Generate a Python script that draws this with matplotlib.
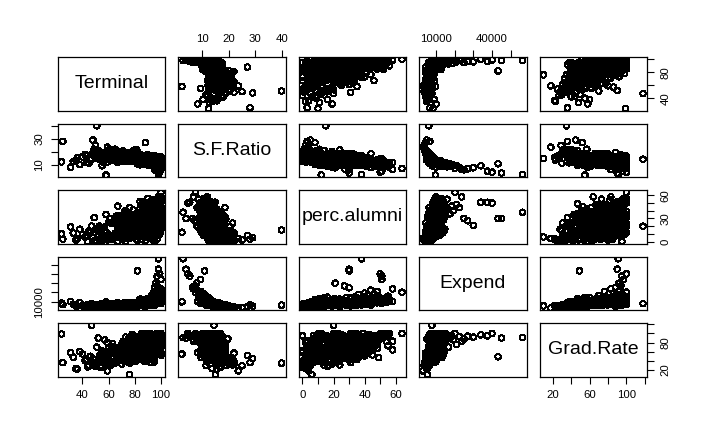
"""
pairs plot of a few College variables (Terminal, S.F.Ratio, perc.alumni,
Expend, Grad.Rate), drawn the way R's pairs() lays it out.
"""
import matplotlib
matplotlib.use("Agg")
import matplotlib.pyplot as plt
import numpy as np

plt.rcParams['font.family'] = ['Liberation Sans', 'DejaVu Sans']

names = ["Terminal", "S.F.Ratio", "perc.alumni", "Expend", "Grad.Rate"]

# values, one entry per college
terminal = [
    98, 98, 82, 99, 97, 100, 96, 97, 95, 100, 99, 96, 100, 94, 98, 97,
    93, 100, 95, 99, 92, 96, 90, 100,
    97, 92, 100, 88, 95, 99, 90, 94, 86, 98,
    93, 100, 87, 96, 91, 98, 84, 99, 95, 89,
    100, 94, 90, 97, 85, 92, 99, 88, 96, 93,
    91, 98, 86, 100, 94, 89, 97, 92, 100, 87,
    96, 88, 99, 93, 90, 100, 85, 95, 91, 98,
    89, 95, 100, 92, 98, 87, 94, 99, 90, 96,
    100, 91, 97, 86, 93, 99, 88, 95, 92, 100,
    94, 97, 90, 100, 85, 96, 93, 98, 89, 91,
    98, 86, 93, 100, 90, 95, 87, 99, 92, 96,
    92, 100, 88, 95, 97, 90, 99, 86, 94, 100,
    82, 74, 91, 68, 87, 79, 95, 71, 85, 77,
    88, 72, 80, 93, 66, 84, 76, 90, 70, 97,
    78, 86, 69, 94, 81, 73, 89, 67, 92, 83,
    91, 75, 85, 70, 96, 80, 87, 73, 83, 94,
    77, 89, 65, 84, 92, 71, 86, 79, 95, 68,
    84, 70, 90, 76, 81, 97, 67, 88, 74, 93,
    72, 87, 79, 94, 68, 83, 91, 75, 85, 98,
    86, 78, 93, 66, 82, 89, 73, 96, 80, 71,
    94, 69, 81, 88, 76, 92, 84, 70, 97, 79,
    80, 90, 74, 85, 67, 95, 78, 87, 72, 91,
    75, 83, 98, 71, 89, 77, 86, 93, 68, 82,
    87, 73, 92, 80, 96, 69, 84, 77, 90, 100,
    63, 81, 55, 74, 89, 59, 70, 92, 66, 78,
    72, 58, 85, 67, 50, 79, 62, 90, 75, 54,
    84, 61, 76, 57, 69, 88, 65, 80, 52, 73,
    68, 87, 56, 77, 64, 91, 71, 60, 83, 48,
    79, 53, 66, 90, 58, 74, 85, 62, 70, 95,
    59, 75, 88, 65, 82, 51, 70, 93, 57, 77,
    86, 67, 55, 78, 63, 92, 73, 49, 81, 69,
    71, 94, 60, 83, 56, 76, 66, 89, 52, 80,
    85, 78, 92, 70, 88, 81, 96, 74, 83, 90,
    76, 91, 83, 68, 94, 79, 87, 72, 97, 81,
    95, 99, 89, 100, 93, 97, 87, 100, 91, 96,
    88, 73, 80, 95, 67, 84, 90, 77, 86, 93,
    66, 82, 58, 75, 90, 62, 71, 87, 54, 79,
    93, 79, 86, 71, 98, 82, 75, 89, 69, 84,
    98, 92, 100, 88, 95, 97, 90, 100, 94, 86,
    81, 94, 76, 87, 70, 90, 84, 78, 96, 73,
    57, 73, 84, 63, 78, 50, 68, 91, 60, 86,
    89, 75, 97, 83, 68, 92, 80, 86, 72, 100,
    51, 47, 24, 25, 48, 88, 58, 36, 35, 42, 45, 53, 40, 55,
    49, 33, 44, 57, 38, 50, 46, 60, 31, 54, 43, 59, 76,
]
sf_ratio = [
    2.9, 4.0, 11.0, 4.7, 5.4, 9.5, 8.0, 7.2, 6.5, 6.8, 8.2, 9.6, 7.5, 10.2,
    9.0, 10.8, 11.3, 8.7, 12.0, 10.0, 11.6, 12.4, 13.0, 9.8,
    12.1, 9.8, 13.5, 11.0, 14.2, 10.4, 12.8, 9.2, 13.9, 11.6,
    10.8, 12.5, 14.6, 9.5, 11.9, 13.1, 10.2, 12.0, 14.8, 11.3,
    13.3, 11.1, 9.9, 12.6, 14.0, 10.7, 12.2, 13.7, 9.6, 11.8,
    11.4, 9.3, 13.8, 12.3, 10.6, 14.3, 11.7, 13.0, 10.0, 12.9,
    12.4, 14.5, 10.9, 9.7, 13.6, 11.5, 12.7, 10.3, 14.1, 12.0,
    13.2, 11.0, 9.4, 12.6, 10.5, 14.9, 11.8, 13.4, 10.1, 12.3,
    11.2, 13.8, 12.1, 10.4, 14.4, 9.9, 12.8, 11.6, 13.1, 10.8,
    10.6, 12.2, 14.7, 11.3, 13.5, 9.6, 12.9, 10.9, 14.2, 11.9,
    9.1, 13.6, 11.5, 12.8, 10.7, 14.0, 12.4, 11.0, 13.3, 10.2,
    12.5, 10.3, 13.9, 11.1, 9.8, 14.6, 12.0, 13.2, 10.6, 11.7,
    14.2, 16.8, 12.5, 18.1, 13.7, 15.4, 11.8, 17.3, 15.0, 13.1,
    15.6, 13.4, 17.7, 12.2, 16.1, 14.8, 18.6, 13.0, 15.9, 14.4,
    13.9, 17.0, 15.2, 12.8, 18.4, 14.6, 16.3, 12.0, 15.7, 13.5,
    16.6, 13.3, 14.1, 17.9, 12.4, 15.5, 13.8, 18.8, 14.9, 12.7,
    15.1, 12.6, 16.9, 14.3, 13.6, 18.2, 11.9, 16.0, 14.7, 17.4,
    13.5, 17.6, 12.9, 15.8, 14.0, 16.4, 13.2, 17.1, 15.3, 12.3,
    16.2, 14.5, 18.0, 13.1, 15.6, 12.1, 17.5, 14.9, 16.8, 13.8,
    12.7, 15.9, 14.8, 17.2, 13.3, 16.6, 14.2, 12.5, 18.5, 15.4,
    15.0, 13.7, 17.8, 12.2, 16.1, 14.4, 13.0, 18.3, 15.5, 14.6,
    14.1, 16.9, 13.4, 15.7, 17.3, 12.8, 16.5, 13.9, 18.9, 14.3,
    17.0, 13.6, 14.2, 16.3, 12.4, 18.7, 15.2, 13.1, 16.7, 14.5,
    13.8, 17.4, 15.1, 14.0, 12.9, 16.0, 18.1, 15.8, 13.5, 16.2,
    16.2, 13.4, 19.0, 14.7, 17.5, 12.3, 20.4, 15.1, 18.3, 14.0,
    14.4, 18.8, 15.6, 12.9, 17.1, 21.2, 13.7, 16.5, 19.7, 14.9,
    17.8, 15.3, 13.1, 19.5, 16.0, 14.2, 22.0, 12.6, 17.0, 15.8,
    13.3, 16.7, 18.2, 14.5, 20.8, 15.2, 12.8, 17.6, 14.1, 19.1,
    15.9, 14.3, 19.3, 13.6, 16.9, 18.0, 14.8, 21.5, 15.0, 17.4,
    18.5, 12.7, 16.3, 14.6, 20.1, 15.5, 17.2, 13.9, 16.6, 19.8,
    14.9, 17.3, 12.5, 19.9, 15.7, 16.1, 13.2, 18.7, 21.9, 14.0,
    16.4, 15.0, 14.2, 18.1, 12.4, 17.7, 20.6, 13.5, 15.4, 19.2,
    14.6, 16.1, 13.0, 17.6, 12.7, 15.3, 14.0, 18.0, 13.6, 15.8,
    15.9, 12.9, 14.7, 18.4, 13.4, 16.6, 15.0, 17.3, 12.2, 14.2,
    11.8, 10.1, 13.2, 9.0, 12.6, 11.2, 14.1, 10.6, 12.9, 13.6,
    13.1, 17.9, 15.4, 12.5, 16.8, 14.4, 13.7, 18.6, 15.1, 14.8,
    17.1, 14.4, 19.6, 15.8, 16.7, 13.6, 20.9, 15.0, 18.4, 14.2,
    14.9, 16.0, 13.3, 17.2, 14.6, 15.6, 18.3, 12.8, 16.4, 13.9,
    10.9, 12.4, 11.6, 14.3, 9.7, 12.1, 13.4, 10.4, 11.9, 13.8,
    15.5, 13.5, 16.9, 14.1, 17.7, 12.6, 15.2, 16.3, 13.0, 18.2,
    15.5, 18.9, 14.3, 16.8, 13.0, 20.3, 17.6, 15.1, 19.0, 13.8,
    13.5, 16.7, 14.3, 15.8, 18.0, 13.2, 17.4, 14.7, 16.1, 15.3,
    39.8, 14.5, 12.5, 28.0, 29.0, 27.0, 2.5, 15.5, 13.8, 18.0, 11.5, 20.5,
    16.2, 9.5, 22.0, 12.8, 17.3, 19.0, 10.4, 25.0, 14.1, 21.4, 8.4, 16.8,
    12.0, 23.6, 15.0,
]
perc_alumni = [
    38, 30, 30, 50, 51, 51, 21, 27, 30, 58, 44, 48, 64, 40, 46, 36,
    42, 55, 34, 49, 38, 31, 45, 35,
    31, 12, 45, 22, 38, 9, 27, 50, 19, 34,
    15, 39, 28, 46, 10, 33, 52, 24, 21, 43,
    26, 42, 11, 35, 48, 20, 29, 37, 14, 54,
    47, 16, 30, 25, 40, 8, 55, 33, 21, 44,
    34, 22, 13, 49, 37, 27, 18, 43, 31, 58,
    29, 10, 41, 36, 23, 51, 17, 32, 45, 27,
    44, 26, 19, 33, 39, 12, 47, 35, 30, 53,
    36, 14, 50, 24, 31, 28, 9, 46, 39, 22,
    41, 27, 35, 16, 56, 30, 23, 11, 38, 45,
    32, 20, 48, 13, 37, 42, 25, 52, 8, 35,
    18, 27, 5, 33, 12, 41, 21, 9, 25, 15,
    24, 7, 16, 35, 10, 29, 44, 20, 13, 31,
    14, 38, 22, 6, 28, 17, 11, 46, 20, 25,
    26, 4, 19, 33, 12, 23, 39, 16, 8, 30,
    31, 15, 24, 43, 10, 28, 7, 35, 18, 13,
    9, 20, 34, 17, 25, 3, 29, 14, 38, 21,
    23, 11, 30, 47, 19, 27, 6, 36, 12, 16,
    28, 14, 8, 22, 33, 18, 40, 10, 24, 15,
    17, 5, 25, 12, 35, 21, 29, 19, 42, 9,
    32, 20, 11, 26, 14, 37, 24, 6, 29, 18,
    15, 27, 34, 3, 22, 30, 10, 45, 19, 13,
    25, 12, 39, 21, 7, 31, 18, 9, 35, 23,
    8, 15, 4, 26, 11, 2, 19, 6, 33, 10,
    12, 5, 22, 0, 16, 9, 3, 28, 7, 18,
    10, 30, 14, 6, 21, 1, 11, 17, 8, 38,
    16, 7, 2, 23, 4, 13, 27, 9, 12, 5,
    14, 20, 5, 11, 35, 8, 3, 24, 12, 0,
    6, 18, 10, 29, 1, 15, 7, 4, 19, 11,
    21, 9, 16, 5, 24, 12, 0, 31, 3, 14,
    12, 2, 25, 15, 7, 4, 10, 20, 13, 6,
    19, 31, 8, 24, 40, 14, 27, 11, 36, 22,
    13, 28, 22, 7, 33, 17, 25, 38, 20, 10,
    37, 24, 46, 31, 15, 52, 28, 41, 19, 34,
    27, 12, 18, 35, 9, 23, 30, 16, 42, 20,
    9, 17, 3, 21, 12, 6, 14, 25, 1, 11,
    21, 15, 32, 10, 26, 37, 13, 29, 18, 24,
    43, 30, 55, 22, 36, 48, 26, 39, 33, 18,
    16, 34, 11, 25, 20, 29, 8, 23, 38, 14,
    13, 4, 18, 8, 22, 2, 11, 15, 6, 19,
    30, 17, 26, 12, 21, 36, 9, 28, 15, 33,
    15, 20, 10, 3, 5, 8, 12, 4, 2, 6, 14, 3, 9, 18,
    1, 11, 0, 7, 16, 2, 12, 5, 19, 0, 8, 4, 6,
]
expend = [
    56233, 45000, 43200, 40000, 37500, 34000, 30000, 27000, 25000, 23800,
    22500, 21000, 20200, 19300, 18500, 17600, 16800, 16000, 15200, 14700,
    14100, 13600, 13000, 12600,
    10400, 13200, 9100, 11700, 8800, 12500, 9600, 14100, 9900, 10900,
    11600, 9700, 8700, 13800, 10200, 9300, 12800, 11100, 8600, 10600,
    9500, 12200, 13500, 10100, 8900, 11900, 9800, 10700, 14500, 9200,
    10800, 14800, 9000, 11300, 12700, 8800, 10300, 9700, 13100, 10000,
    9900, 8700, 12400, 13300, 9400, 11000, 10500, 12000, 8900, 10200,
    9300, 11500, 13900, 10000, 12300, 8600, 10800, 9600, 12900, 9900,
    12100, 9100, 10600, 11800, 8800, 13600, 9800, 10900, 9500, 12600,
    11400, 10300, 8900, 12800, 9200, 14200, 9700, 11700, 8700, 10100,
    13000, 9000, 10700, 11200, 12000, 8800, 9600, 12400, 9400, 11600,
    10200, 12900, 9300, 10900, 13400, 8700, 11800, 9500, 12200, 10600,
    8200, 7100, 9400, 6600, 8800, 7500, 10100, 6900, 7800, 9000,
    7600, 8900, 6800, 9800, 7300, 8300, 6500, 9300, 7900, 8600,
    8500, 7000, 7700, 9600, 6700, 8100, 7400, 9200, 8700, 7200,
    7300, 8700, 8000, 6900, 10200, 7600, 9100, 6600, 8400, 9700,
    7800, 9500, 7100, 8300, 8900, 6700, 10400, 7500, 9000, 7000,
    8800, 7200, 9900, 7700, 8200, 8500, 7400, 7000, 8000, 10000,
    7000, 8600, 6800, 9400, 7600, 9800, 7300, 8100, 7100, 9200,
    9300, 7400, 8100, 7000, 8900, 7800, 8400, 10300, 6600, 7500,
    8300, 7900, 6900, 9700, 7300, 8700, 9000, 6500, 8500, 7700,
    8600, 7500, 8300, 7800, 7100, 9500, 6900, 8800, 6700, 8200,
    7200, 8800, 9600, 7600, 9200, 6600, 7900, 9900, 7000, 8400,
    8900, 7100, 8200, 8500, 9400, 7700, 6800, 8000, 9100, 7900,
    6100, 7200, 5300, 6800, 6400, 7900, 5000, 7000, 5800, 6600,
    6900, 5500, 6300, 7500, 5900, 4800, 7800, 6500, 5200, 6700,
    5700, 6600, 7300, 5100, 7100, 6200, 4500, 8200, 5600, 6400,
    7400, 6000, 5600, 6900, 4900, 6800, 7700, 5400, 7000, 5000,
    6500, 7000, 5200, 7600, 6100, 5800, 7300, 4700, 6700, 6300,
    5400, 7500, 6600, 7200, 5300, 6200, 6000, 6900, 6400, 5700,
    7100, 5900, 7400, 5100, 7700, 6300, 6800, 5500, 4600, 6700,
    6000, 6600, 7300, 5600, 7600, 5300, 5000, 7500, 6200, 5400,
    8100, 7400, 9300, 6800, 9900, 7700, 8800, 6500, 8400, 7900,
    7500, 9600, 8200, 6700, 9100, 7200, 8600, 7000, 10300, 8000,
    11200, 12800, 9800, 14400, 10300, 11900, 9200, 13100, 9700, 10600,
    8700, 6900, 7600, 9800, 7100, 8300, 9000, 6600, 8500, 8800,
    5900, 6800, 5100, 6400, 6200, 7300, 4900, 7100, 5500, 6700,
    8800, 7600, 9200, 7000, 9500, 7900, 6800, 9700, 7300, 8400,
    12500, 10400, 13700, 9300, 11600, 12200, 9900, 15300, 10800, 9000,
    7800, 9400, 7200, 8600, 6900, 9100, 8000, 7500, 10000, 6700,
    6300, 5300, 7200, 5800, 7600, 4700, 6100, 6900, 5200, 7400,
    9200, 7400, 8900, 7900, 6800, 9600, 7100, 8500, 7300, 9000,
    6300, 7900, 8500, 6800, 5200, 4600, 9800, 5500, 5100, 4800,
    6500, 4300, 5600, 8100, 4000, 7200, 5000, 4500, 9100, 3800,
    6900, 4200, 10200, 5300, 6200, 3186, 5500,
]
grad_rate = [
    91, 90, 49, 100, 95, 97, 92, 94, 88, 83, 93, 76, 100, 86, 95, 89,
    70, 96, 87, 92, 78, 81, 88, 99,
    78, 56, 92, 85, 70, 96, 61, 88, 74, 100,
    87, 72, 49, 94, 80, 63, 91, 58, 76, 97,
    52, 95, 71, 89, 77, 100, 68, 93, 60, 82,
    90, 79, 67, 98, 55, 86, 73, 94, 81, 62,
    75, 83, 97, 47, 69, 90, 85, 72, 100, 64,
    66, 88, 57, 93, 80, 99, 71, 85, 53, 91,
    96, 74, 87, 59, 79, 68, 92, 48, 83, 100,
    85, 62, 91, 70, 97, 54, 88, 80, 93, 73,
    94, 69, 51, 82, 100, 78, 75, 87, 63, 90,
    81, 95, 67, 58, 86, 91, 73, 98, 76, 89,
    62, 45, 78, 55, 88, 70, 38, 83, 58, 66,
    52, 68, 94, 59, 41, 80, 72, 63, 50, 87,
    56, 73, 64, 84, 47, 92, 61, 69, 36, 79,
    71, 60, 82, 46, 99, 77, 53, 66, 86, 42,
    75, 57, 40, 68, 49, 80, 61, 90, 65, 52,
    64, 77, 50, 70, 44, 85, 59, 96, 55, 81,
    58, 39, 73, 79, 62, 87, 68, 47, 100, 76,
    80, 56, 66, 37, 72, 63, 51, 91, 75, 48,
    65, 71, 53, 86, 43, 60, 78, 74, 57, 93,
    77, 46, 64, 69, 54, 81, 98, 73, 50, 61,
    52, 88, 68, 63, 40, 79, 61, 84, 70, 57,
    74, 49, 66, 83, 95, 62, 56, 85, 44, 100,
    45, 68, 38, 62, 51, 80, 33, 55, 49, 72,
    53, 40, 64, 58, 28, 47, 72, 60, 88, 50,
    49, 61, 75, 36, 68, 42, 57, 92, 39, 59,
    58, 44, 48, 65, 34, 55, 83, 41, 69, 30,
    60, 52, 37, 77, 47, 43, 66, 31, 54, 95,
    39, 63, 51, 67, 42, 70, 56, 48, 86, 44,
    66, 45, 55, 38, 78, 53, 62, 36, 40, 57,
    50, 54, 68, 47, 61, 35, 42, 74, 90, 41,
    69, 57, 83, 48, 76, 64, 92, 52, 71, 60,
    54, 81, 66, 44, 87, 59, 73, 62, 95, 50,
    88, 71, 95, 83, 66, 100, 79, 92, 58, 86,
    78, 51, 63, 85, 46, 70, 82, 56, 90, 67,
    47, 61, 35, 58, 52, 66, 40, 71, 30, 56,
    72, 59, 80, 49, 88, 68, 53, 84, 61, 75,
    91, 77, 98, 69, 84, 94, 73, 100, 86, 65,
    62, 79, 55, 74, 50, 83, 58, 66, 91, 47,
    50, 39, 63, 46, 67, 32, 55, 59, 42, 70,
    80, 56, 86, 64, 52, 89, 48, 77, 60, 100,
    35, 118, 99, 36, 45, 52, 55, 22, 23, 40, 30, 38, 55, 62,
    33, 48, 27, 36, 60, 29, 50, 31, 58, 25, 44, 18, 10,
]

# axis ticks, labels on the outer (top/bottom) and side (left/right) axes
ticks = [[40, 60, 80, 100], [10, 20, 30, 40], [0, 10, 20, 30, 40, 50, 60],
         [10000, 20000, 30000, 40000, 50000], [20, 40, 60, 80, 100, 120]]
outer_labels = [[40, 60, 80, 100], [10, 20, 30, 40], [0, 20, 40, 60],
                [10000, 40000], [20, 60, 100]]
side_labels = [[40, 80], [10, 30], [0, 30, 60], [10000], [20, 80]]


def tick_text(tk, shown):
    return [str(t) if t in shown else "" for t in tk]


def main():
    data = [np.array(v, dtype=float) for v in
            (terminal, sf_ratio, perc_alumni, expend, grad_rate)]
    lims = []
    for d in data:
        pad = 0.04 * (d.max() - d.min())
        lims.append((d.min() - pad, d.max() + pad))

    W, H = 704, 434
    fig = plt.figure(figsize=(W / 100, H / 100), dpi=100)
    n = len(names)
    for i in range(n):
        for j in range(n):
            left = 57.5 + j * 120.5
            top = 57.3 + i * 66.5
            ax = fig.add_axes([left / W, 1 - (top + 53.2) / H, 107.5 / W, 53.2 / H])
            ax.set_xlim(lims[j])
            ax.set_ylim(lims[i])
            for s in ax.spines.values():
                s.set_linewidth(0.9)
            if i == j:
                ax.text(0.5, 0.5, names[i], transform=ax.transAxes,
                        ha="center", va="center", fontsize=14)
            else:
                ax.scatter(data[j], data[i], s=16, facecolors="none",
                           edgecolors="black", linewidths=0.75,
                           antialiaseds=False)
            ax.tick_params(length=5, width=0.8, labelsize=8.2, pad=4.5,
                           bottom=False, top=False, left=False, right=False,
                           labelbottom=False, labeltop=False,
                           labelleft=False, labelright=False)
            ax.set_xticks(ticks[j])
            ax.set_yticks(ticks[i])
            if i == 0 and j % 2 == 1:
                ax.tick_params(top=True, labeltop=True)
                ax.set_xticklabels(tick_text(ticks[j], outer_labels[j]))
            if i == n - 1 and j % 2 == 0:
                ax.tick_params(bottom=True, labelbottom=True)
                ax.set_xticklabels(tick_text(ticks[j], outer_labels[j]))
            if j == 0 and i % 2 == 1:
                ax.tick_params(left=True, labelleft=True)
                ax.set_yticklabels(tick_text(ticks[i], side_labels[i]),
                                   rotation=90, va="center")
            if j == n - 1 and i % 2 == 0:
                ax.tick_params(right=True, labelright=True)
                ax.set_yticklabels(tick_text(ticks[i], side_labels[i]),
                                   rotation=90, va="center")

    fig.savefig("out.png", dpi=100)


if __name__ == "__main__":
    main()
